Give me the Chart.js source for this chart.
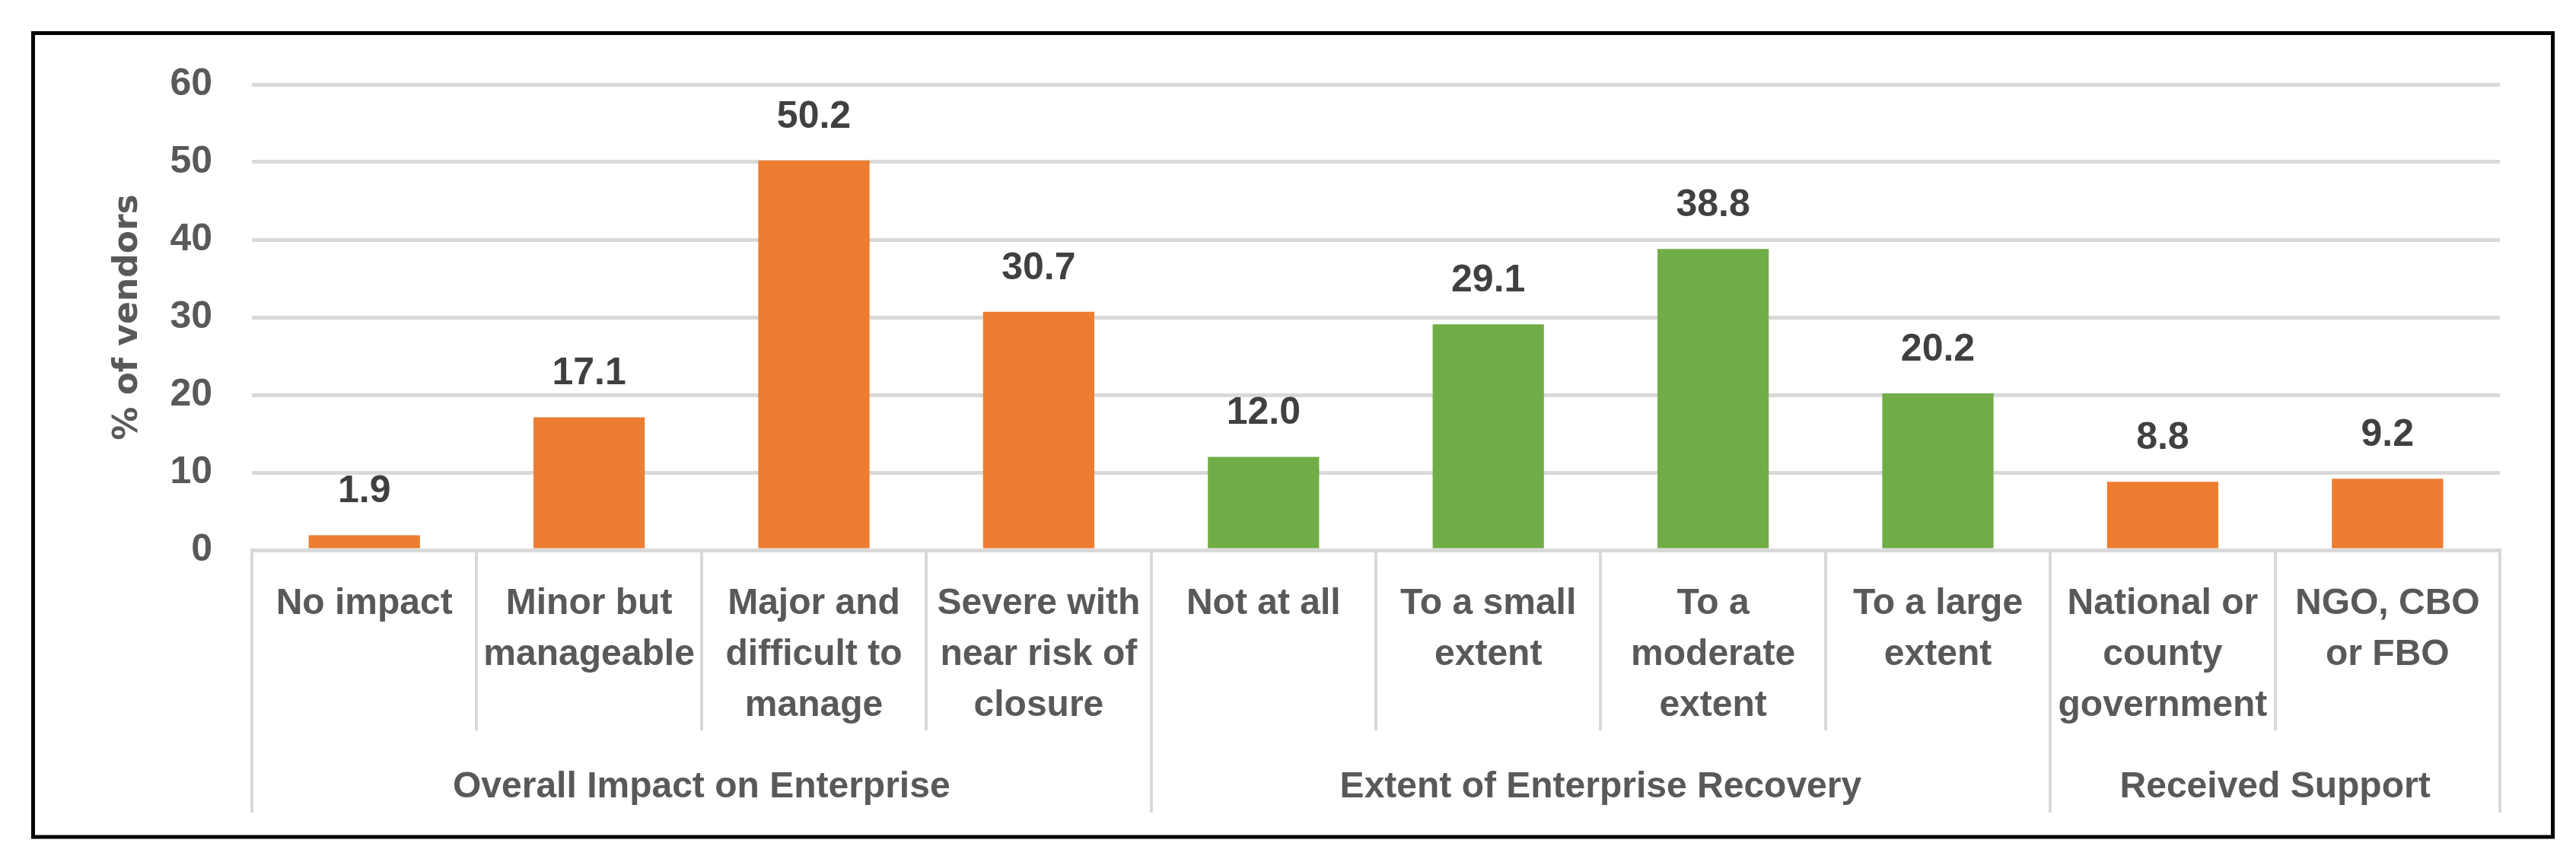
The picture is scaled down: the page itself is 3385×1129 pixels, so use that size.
<!DOCTYPE html>
<html>
<head>
<meta charset="utf-8">
<script src="https://cdn.jsdelivr.net/npm/chart.js@4/dist/chart.umd.min.js"></script>
<style>
  html, body { margin: 0; padding: 0; background: #ffffff; }
  #wrap { width: 3385px; height: 1129px; position: relative; }
</style>
</head>
<body>
<div id="wrap"><canvas id="impactChart" width="3385" height="1129"></canvas></div>
<script>
// Chart data
const categories = [
  ["No impact"],
  ["Minor but", "manageable"],
  ["Major and", "difficult to", "manage"],
  ["Severe with", "near risk of", "closure"],
  ["Not at all"],
  ["To a small", "extent"],
  ["To a", "moderate", "extent"],
  ["To a large", "extent"],
  ["National or", "county", "government"],
  ["NGO, CBO", "or FBO"],
];
const percentVendors = [1.9, 17.1, 50.2, 30.7, 12.0, 29.1, 38.8, 20.2, 8.8, 9.2];
const groupNames = ["Overall Impact on Enterprise", "Extent of Enterprise Recovery", "Received Support"];
const groupSizes = [4, 4, 2];
const groupColors = ["#ED7D31", "#70AD47", "#ED7D31"];
const yTicks = [0, 10, 20, 30, 40, 50, 60];

const labelFont = "'Liberation Sans', Arial, sans-serif";
const gridColor = "#D9D9D9";
const textColor = "#595959";

// colour each bar by its group
const barColors = [];
groupSizes.forEach((n, g) => {
  for (let i = 0; i < n; i++) barColors.push(groupColors[g]);
});

// value labels above bars
const valueLabels = {
  id: "valueLabels",
  afterDatasetsDraw(chart) {
    const ctx = chart.ctx;
    const meta = chart.getDatasetMeta(0);
    ctx.save();
    ctx.font = "bold 50px " + labelFont;
    ctx.fillStyle = "#404040";
    ctx.textAlign = "center";
    ctx.textBaseline = "middle";
    meta.data.forEach((bar, i) => {
      ctx.fillText(percentVendors[i].toFixed(1), bar.x, bar.y - 57);
    });
    ctx.restore();
  },
};

// group separators, group names and outer frame
const groupAxis = {
  id: "groupAxis",
  afterDraw(chart) {
    const ctx = chart.ctx;
    const x = chart.scales.x;
    const top = chart.chartArea.bottom;
    ctx.save();
    ctx.strokeStyle = gridColor;
    ctx.lineWidth = 4;
    let start = 0;
    const bounds = [0];
    groupSizes.forEach((n) => { start += n; bounds.push(start); });
    bounds.forEach((b) => {
      const px = Math.round(x.getPixelForValue(b - 0.5));
      ctx.beginPath();
      ctx.moveTo(px, top);
      ctx.lineTo(px, top + 345);
      ctx.stroke();
    });
    ctx.font = "bold 48px " + labelFont;
    ctx.fillStyle = textColor;
    ctx.textAlign = "center";
    ctx.textBaseline = "middle";
    groupNames.forEach((name, g) => {
      const mid = (bounds[g] + bounds[g + 1] - 1) / 2;
      ctx.fillText(name, x.getPixelForValue(mid), top + 312);
    });
    // outer frame
    ctx.strokeStyle = "#000000";
    ctx.lineWidth = 5;
    ctx.strokeRect(43.5, 43.5, 3311, 1056.5);
    ctx.restore();
  },
};

const ctx = document.getElementById("impactChart").getContext("2d");
const impactChart = new Chart(ctx, {
  type: "bar",
  data: {
    labels: categories,
    datasets: [
      {
        label: "% of vendors",
        data: percentVendors,
        backgroundColor: barColors,
        borderWidth: 0,
        categoryPercentage: 1.0,
        barPercentage: 0.495,
      },
    ],
  },
  options: {
    responsive: false,
    animation: false,
    devicePixelRatio: 1,
    layout: { padding: { top: 111, right: 100, bottom: 0, left: 0 } },
    plugins: {
      legend: { display: false },
      tooltip: { enabled: false },
    },
    scales: {
      x: {
        grid: {
          offset: true,
          drawOnChartArea: false,
          color: gridColor,
          lineWidth: 4,
          tickLength: 237,
        },
        border: { display: true, color: gridColor, width: 5 },
        ticks: {
          color: textColor,
          font: { family: labelFont, size: 48, weight: "bold", lineHeight: "67px" },
          padding: -200,
          autoSkip: false,
          maxRotation: 0,
          minRotation: 0,
        },
        afterFit(scale) { scale.height = 406; },
      },
      y: {
        min: 0,
        max: 60,
        afterBuildTicks(scale) { scale.ticks = yTicks.map((v) => ({ value: v })); },
        grid: { color: gridColor, lineWidth: 5, drawTicks: false },
        border: { display: false },
        ticks: {
          color: textColor,
          font: { family: labelFont, size: 50, weight: "bold" },
          padding: 52,
        },
        title: {
          display: true,
          text: "% of vendors",
          color: textColor,
          font: { family: "'DejaVu Sans', Verdana, sans-serif", size: 44, weight: "bold", lineHeight: 1.2 },
          padding: { top: 142, bottom: 0 },
        },
        afterFit(scale) { scale.width = 331; },
      },
    },
  },
  plugins: [valueLabels, groupAxis],
});
</script>
</body>
</html>
